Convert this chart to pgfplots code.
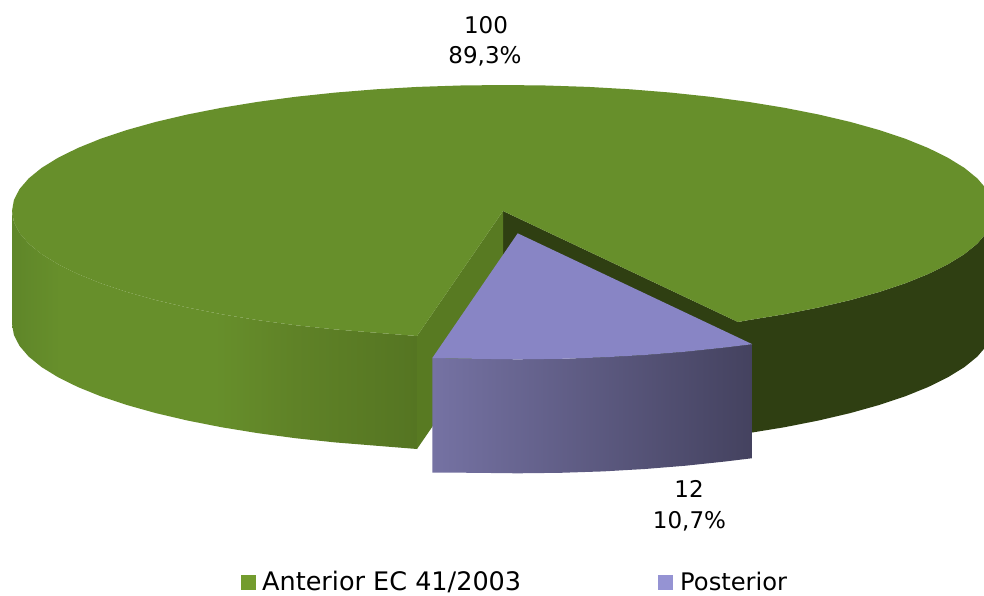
\documentclass[border=0pt]{standalone}
\usepackage{pgfplots}
\pgfplotsset{compat=1.18}
\usepackage{fontspec}
\setmainfont{DejaVu Sans}
\definecolor{gtop}{HTML}{678F2B}
\definecolor{gdark}{HTML}{2F3F12}
\definecolor{gwall}{HTML}{587A22}
\definecolor{ptop}{HTML}{8885C5}
\definecolor{legg}{HTML}{739C2E}
\definecolor{legp}{HTML}{9593D3}
\definecolor{gs0}{HTML}{5F8629}
\definecolor{gs1}{HTML}{5F8227}
\definecolor{gs2}{HTML}{557522}
\definecolor{ps0}{HTML}{7572A3}
\definecolor{ps1}{HTML}{44425F}
\pgfdeclarehorizontalshading{greenside}{100bp}{color(0bp)=(gs0); color(25bp)=(gs0); color(31bp)=(gtop); color(50bp)=(gtop); color(60bp)=(gs1); color(75bp)=(gs2); color(100bp)=(gs2)}
\pgfdeclarehorizontalshading{purpleside}{100bp}{color(0bp)=(ps0); color(25bp)=(ps0); color(75bp)=(ps1); color(100bp)=(ps1)}
\begin{document}
\begin{tikzpicture}
\useasboundingbox (0,0) rectangle (984pt,595pt);
\begin{axis}[
  at={(0,0)}, anchor=south west,
  scale only axis, width=984pt, height=595pt,
  xmin=0, xmax=984, ymin=0, ymax=595, y dir=reverse,
  hide axis, clip=true,
]
% right outer wall
\addplot[fill=gdark, draw=none] coordinates {
(738,322)(748.5,320.1)(784.6,314.2)(818.6,307.5)(850.2,300.1)(879.1,292)(905.2,283.3)(928.2,274)(948,264.2)(964.4,254.1)(977.3,243.6)(986.5,232.9)(992.1,222)(994,211)
(994,324)(992.1,335)(986.5,345.9)(977.3,356.6)(964.4,367.1)(948,377.2)(928.2,387)(905.2,396.3)(879.1,405)(850.2,413.1)(818.6,420.5)(784.6,427.2)(748.5,433.1)(738,435)};
% inner wall, right of the gap
\addplot[fill=gdark, draw=none] coordinates {(503,211)(738,322)(738,435)(503,324)};
% left outer wall
\addplot[shade, shading=greenside, draw=none] coordinates {
(12,211)(13.9,222)(19.5,232.9)(28.7,243.6)(41.6,254.1)(58,264.2)(77.8,274)(100.8,283.3)(126.9,292)(155.8,300.1)(187.4,307.5)(221.4,314.2)(257.5,320.1)(295.5,325.2)(335.1,329.4)(375.9,332.7)(417,336)
(417,449)(375.9,445.7)(335.1,442.4)(295.5,438.2)(257.5,433.1)(221.4,427.2)(187.4,420.5)(155.8,413.1)(126.9,405)(100.8,396.3)(77.8,387)(58,377.2)(41.6,367.1)(28.7,356.6)(19.5,345.9)(13.9,335)(12,324)};
% inner wall, left of the gap
\addplot[fill=gwall, draw=none] coordinates {(503,211)(417,336)(417,449)(503,324)};
% top of the green slice
\addplot[fill=gtop, draw=none] coordinates {
(503,211)(417,336)(375.9,332.7)(335.1,329.4)(295.5,325.2)(257.5,320.1)(221.4,314.2)(187.4,307.5)(155.8,300.1)(126.9,292)(100.8,283.3)(77.8,274)(58,264.2)(41.6,254.1)(28.7,243.6)(19.5,232.9)(13.9,222)(12,211)
(13.9,200)(19.5,189.1)(28.7,178.4)(41.6,167.9)(58,157.8)(77.8,148)(100.8,138.7)(126.9,130)(155.8,121.9)(187.4,114.5)(221.4,107.8)(257.5,101.9)(295.5,96.8)(335.1,92.6)(375.9,89.3)(417.7,86.9)(460.2,85.5)(503,85)
(545.8,85.5)(588.3,86.9)(630.1,89.3)(670.9,92.6)(710.5,96.8)(748.5,101.9)(784.6,107.8)(818.6,114.5)(850.2,121.9)(879.1,130)(905.2,138.7)(928.2,148)(948,157.8)(964.4,167.9)(977.3,178.4)(986.5,189.1)(992.1,200)(994,211)
(992.1,222)(986.5,232.9)(977.3,243.6)(964.4,254.1)(948,264.2)(928.2,274)(905.2,283.3)(879.1,292)(850.2,300.1)(818.6,307.5)(784.6,314.2)(748.5,320.1)(738,322)};
% purple slice, wall
\addplot[shade, shading=purpleside, draw=none] coordinates {
(432.3,358)(474.9,358.8)(517.7,359.3)(560.5,358.8)(603,357.4)(644.8,355)(685.6,351.7)(725.2,347.5)(752.3,344.2)
(752.3,458.2)(725.2,461.5)(685.6,465.7)(644.8,469)(603,471.4)(560.5,472.8)(517.7,473.3)(474.9,472.8)(432.3,472.5)};
% purple slice, top
\addplot[fill=ptop, draw=none] coordinates {
(517.7,233.3)(432.3,358)(474.9,358.8)(517.7,359.3)(560.5,358.8)(603,357.4)(644.8,355)(685.6,351.7)(725.2,347.5)(752.3,344.2)};
% legend keys
\addplot[fill=legg, draw=none] coordinates {(241,575)(256,575)(256,590)(241,590)};
\addplot[fill=legp, draw=none] coordinates {(658,575)(673,575)(673,590)(658,590)};
% labels
\node[anchor=base, inner sep=0pt, font=\fontsize{23}{30}\selectfont] at (axis cs:486,33) {100};
\node[anchor=base, inner sep=0pt, font=\fontsize{23}{30}\selectfont] at (axis cs:485,63) {89,3\%};
\node[anchor=base, inner sep=0pt, font=\fontsize{23}{30}\selectfont] at (axis cs:689,497) {12};
\node[anchor=base, inner sep=0pt, font=\fontsize{23}{30}\selectfont] at (axis cs:689.5,528) {10,7\%};
\node[anchor=base west, inner sep=0pt, font=\fontsize{25.5}{30}\selectfont] at (axis cs:262,590) {Anterior EC 41/2003};
\node[anchor=base west, inner sep=0pt, font=\fontsize{24.2}{30}\selectfont] at (axis cs:680,590) {Posterior};
\end{axis}
\end{tikzpicture}
\end{document}
